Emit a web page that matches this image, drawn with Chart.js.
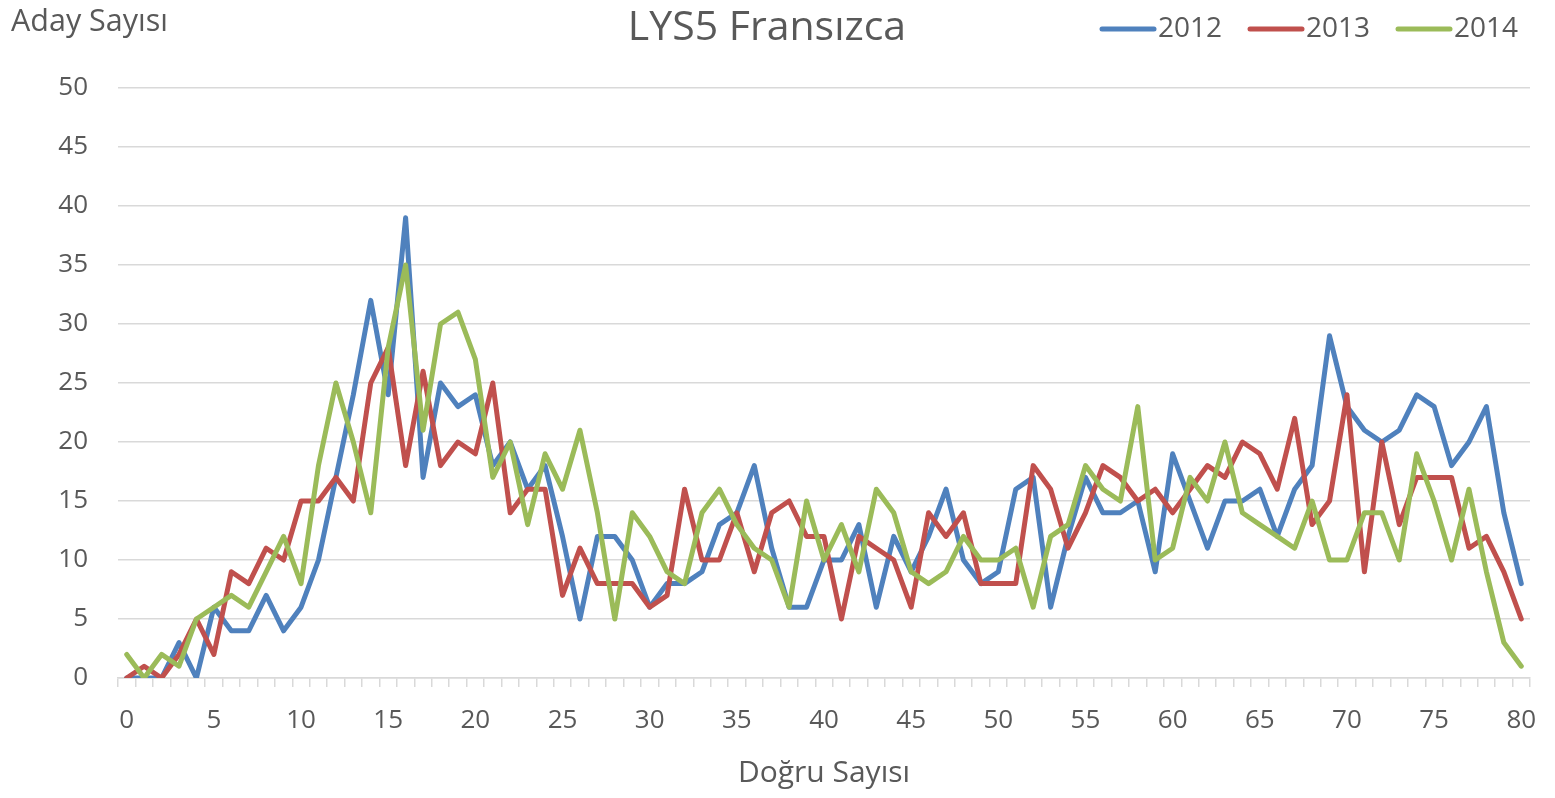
<!DOCTYPE html>
<html>
<head>
<meta charset="utf-8">
<title>LYS5 Fransızca</title>
<script src="https://cdn.jsdelivr.net/npm/chart.js@4"></script>
<style>
    html, body { margin: 0; padding: 0; background: #fff; }
    #wrap { width: 1555px; height: 798px; position: relative; }
</style>
</head>
<body>
<div id="wrap"><canvas id="lys5"></canvas></div>
<script>
// Doğru sayısı (x categories)
var dogruSayisi = ['0', '1', '2', '3', '4', '5', '6', '7', '8', '9', '10',
    '11', '12', '13', '14', '15', '16', '17', '18', '19', '20',
    '21', '22', '23', '24', '25', '26', '27', '28', '29', '30',
    '31', '32', '33', '34', '35', '36', '37', '38', '39', '40',
    '41', '42', '43', '44', '45', '46', '47', '48', '49', '50',
    '51', '52', '53', '54', '55', '56', '57', '58', '59', '60',
    '61', '62', '63', '64', '65', '66', '67', '68', '69', '70',
    '71', '72', '73', '74', '75', '76', '77', '78', '79', '80'];

// Aday sayısı per year
var aday2012 = [0, 0, 0, 3, 0, 6, 4, 4, 7, 4, 6,
    10, 17, 24, 32, 24, 39, 17, 25, 23, 24,
    18, 20, 16, 18, 12, 5, 12, 12, 10, 6,
    8, 8, 9, 13, 14, 18, 11, 6, 6, 10,
    10, 13, 6, 12, 9, 12, 16, 10, 8, 9,
    16, 17, 6, 12, 17, 14, 14, 15, 9, 19,
    15, 11, 15, 15, 16, 12, 16, 18, 29, 23,
    21, 20, 21, 24, 23, 18, 20, 23, 14, 8];

var aday2013 = [0, 1, 0, 2, 5, 2, 9, 8, 11, 10, 15,
    15, 17, 15, 25, 28, 18, 26, 18, 20, 19,
    25, 14, 16, 16, 7, 11, 8, 8, 8, 6,
    7, 16, 10, 10, 14, 9, 14, 15, 12, 12,
    5, 12, 11, 10, 6, 14, 12, 14, 8, 8,
    8, 18, 16, 11, 14, 18, 17, 15, 16, 14,
    16, 18, 17, 20, 19, 16, 22, 13, 15, 24,
    9, 20, 13, 17, 17, 17, 11, 12, 9, 5];

var aday2014 = [2, 0, 2, 1, 5, 6, 7, 6, 9, 12, 8,
    18, 25, 20, 14, 28, 35, 21, 30, 31, 27,
    17, 20, 13, 19, 16, 21, 14, 5, 14, 12,
    9, 8, 14, 16, 13, 11, 10, 6, 15, 10,
    13, 9, 16, 14, 9, 8, 9, 12, 10, 10,
    11, 6, 12, 13, 18, 16, 15, 23, 10, 11,
    17, 15, 20, 14, 13, 12, 11, 15, 10, 10,
    14, 14, 10, 19, 15, 10, 16, 9, 3, 1];

var yTicks = [0, 5, 10, 15, 20, 25, 30, 35, 40, 45, 50];

var chartTitle = 'LYS5 Fransızca';
var yAxisTitle = 'Aday Sayısı';
var xAxisTitle = 'Doğru Sayısı';

var textColor = '#595959';
var gridColor = '#d9d9d9';
var fontFamily = '"Open Sans", "DejaVu Sans", sans-serif';

// title, y axis caption and legend sit on one line above the plot
var headerPlugin = {
    id: 'header',
    afterDraw: function (chart) {
        var ctx = chart.ctx;
        ctx.save();
        ctx.fillStyle = textColor;
        ctx.textBaseline = 'middle';

        ctx.font = '41px ' + fontFamily;
        ctx.textAlign = 'center';
        ctx.fillText(chartTitle, 767, 28);

        ctx.font = '30.5px ' + fontFamily;
        ctx.textAlign = 'left';
        ctx.fillText(yAxisTitle, 11, 22);

        ctx.font = '28px ' + fontFamily;
        var x = 1102;
        chart.data.datasets.forEach(function (ds) {
            ctx.strokeStyle = ds.borderColor;
            ctx.lineWidth = 5;
            ctx.lineCap = 'round';
            ctx.beginPath();
            ctx.moveTo(x, 29);
            ctx.lineTo(x + 52, 29);
            ctx.stroke();
            ctx.fillText(ds.label, x + 56, 29);
            x += 148;
        });
        ctx.restore();
    }
};

var ctx = document.getElementById('lys5').getContext('2d');

var lys5Chart = new Chart(ctx, {
    type: 'line',
    data: {
        labels: dogruSayisi,
        datasets: [
            { label: '2012', data: aday2012, borderColor: '#4f81bd', order: 3 },
            { label: '2013', data: aday2013, borderColor: '#c0504d', order: 2 },
            { label: '2014', data: aday2014, borderColor: '#9bbb59', order: 1 }
        ]
    },
    options: {
        responsive: true,
        maintainAspectRatio: false,
        devicePixelRatio: 1,
        animation: false,
        layout: { padding: { top: 88, right: 25, left: 0, bottom: 0 } },
        elements: {
            line: { borderWidth: 5, tension: 0, fill: false, borderJoinStyle: 'round', borderCapStyle: 'round' },
            point: { radius: 0, hoverRadius: 0 }
        },
        plugins: {
            legend: { display: false },
            title: { display: false },
            tooltip: { enabled: false }
        },
        scales: {
            x: {
                offset: true,
                afterFit: function (scale) { scale.height = 120; },
                grid: {
                    offset: true,
                    drawOnChartArea: false,
                    drawTicks: true,
                    tickLength: 9,
                    color: gridColor,
                    lineWidth: 1.5
                },
                border: { color: gridColor, width: 1.5 },
                ticks: {
                    autoSkip: false,
                    maxRotation: 0,
                    padding: 18,
                    color: textColor,
                    font: { size: 26, family: fontFamily },
                    callback: function (value, index) {
                        return index % 5 === 0 ? this.getLabelForValue(value) : '';
                    }
                },
                title: {
                    display: true,
                    text: xAxisTitle,
                    color: textColor,
                    font: { size: 30, family: fontFamily },
                    padding: { top: 0, bottom: 7 }
                }
            },
            y: {
                min: 0,
                max: 50,
                afterBuildTicks: function (scale) {
                    scale.ticks = yTicks.map(function (v) { return { value: v }; });
                },
                afterFit: function (scale) { scale.width = 118; },
                grid: { color: gridColor, lineWidth: 1.5, drawTicks: false },
                border: { display: false },
                ticks: {
                    padding: 30,
                    color: textColor,
                    font: { size: 26, family: fontFamily }
                }
            }
        }
    },
    plugins: [headerPlugin]
});
</script>
</body>
</html>
